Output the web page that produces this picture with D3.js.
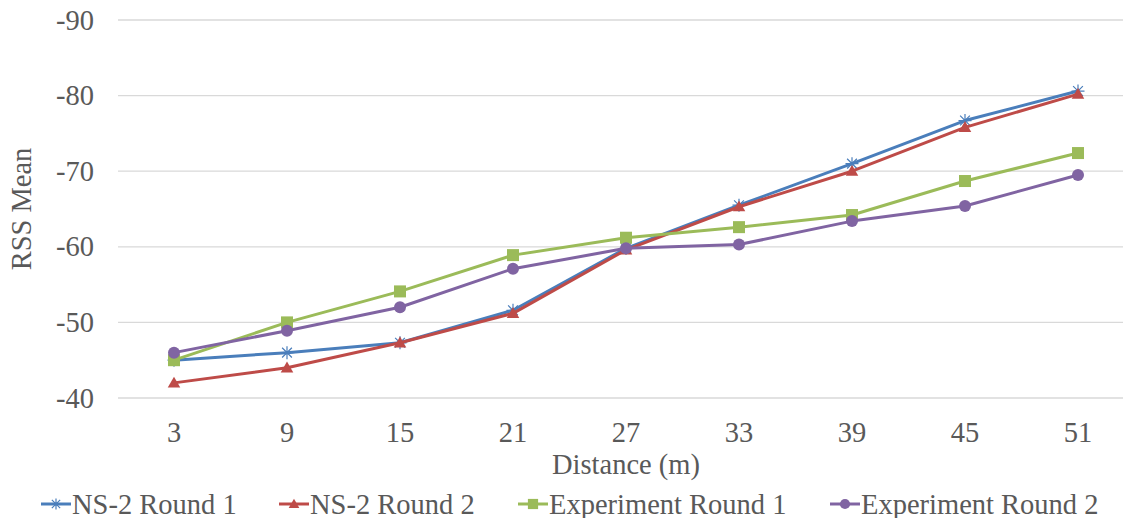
<!DOCTYPE html>
<html>
<head>
<meta charset="utf-8">
<script src="https://cdn.jsdelivr.net/npm/d3@7"></script>
<style>
  body { margin: 0; background: #fff; }
</style>
</head>
<body>
<div class="plot"></div>
<script>

// distances on the x axis
const distances = [3, 9, 15, 21, 27, 33, 39, 45, 51];

// RSS means
const ns2Round1 = [-45.0, -46.0, -47.3, -51.6, -59.8, -65.5, -71.0, -76.7, -80.6];
const ns2Round2 = [-42.0, -44.0, -47.3, -51.2, -59.6, -65.3, -70.0, -75.8, -80.2];
const expRound1 = [-45.0, -50.0, -54.1, -58.9, -61.2, -62.6, -64.2, -68.7, -72.4];
const expRound2 = [-46.0, -48.9, -52.0, -57.1, -59.8, -60.3, -63.4, -65.4, -69.5];

const yTicks = [-40, -50, -60, -70, -80, -90];

const seriesNames = ["NS-2 Round 1", "NS-2 Round 2", "Experiment Round 1", "Experiment Round 2"];

const FONT = "'Liberation Serif', monospace";
const FONT_SIZE = 28.5;
const TEXT_COLOR = "#595959";

function addText(sel){
  return sel.append('text')
    .style('font-family', FONT)
    .style('font-size', FONT_SIZE + 'px')
    .style('fill', TEXT_COLOR);
}

function createPlot(){

  const width = 1128;
  const height = 518;

  const series = [
    {name: seriesNames[0], values: ns2Round1, color: "#4A7EBB", marker: "star"},
    {name: seriesNames[1], values: ns2Round2, color: "#BE4B48", marker: "triangle"},
    {name: seriesNames[2], values: expRound1, color: "#9BBB59", marker: "square"},
    {name: seriesNames[3], values: expRound2, color: "#8064A2", marker: "circle"}
  ];

  const svg = d3.select('.plot')
    .append('svg')
    .attr('width', width)
    .attr('height', height)
    .style('font-family', FONT);

  //Scales
  const xScale = d3.scaleBand()
    .domain(distances)
    .range([117.5, 1134.5]);

  const yScale = d3.scaleLinear()
    .domain([-40, -90])
    .range([398, 20]);

  const gridLeft = 118, gridRight = 1123;

  //Gridlines
  svg.selectAll('.grid')
    .data(yTicks)
    .enter()
    .append('line')
    .attr('x1', gridLeft)
    .attr('x2', gridRight)
    .attr('y1', d => yScale(d))
    .attr('y2', d => yScale(d))
    .attr('stroke', '#d9d9d9')
    .attr('stroke-width', 1.3);

  //Y tick labels
  yTicks.forEach(function(t){
    addText(svg)
      .attr('x', 94)
      .attr('y', yScale(t) + 9.5)
      .attr('text-anchor', 'end')
      .text(t);
  });

  //X tick labels
  distances.forEach(function(d){
    addText(svg)
      .attr('x', xScale(d) + xScale.bandwidth()/2)
      .attr('y', 442)
      .attr('text-anchor', 'middle')
      .text(d);
  });

  //Axis titles
  addText(svg)
    .attr('x', 626)
    .attr('y', 474)
    .attr('text-anchor', 'middle')
    .text('Distance (m)');

  addText(svg)
    .attr('transform', 'rotate(-90)')
    .attr('x', -209)
    .attr('y', 31)
    .attr('text-anchor', 'middle')
    .text('RSS Mean');

  const line = d3.line()
    .x((d, i) => xScale(distances[i]) + xScale.bandwidth()/2)
    .y(d => yScale(d));

  function drawMarker(g, type, color, x, y, s){
    if(type === "star"){
      const r = 6.5 * s;
      const d = `M${x-r},${y}L${x+r},${y}M${x},${y-r}L${x},${y+r}` +
        `M${x-r*0.75},${y-r*0.75}L${x+r*0.75},${y+r*0.75}M${x-r*0.75},${y+r*0.75}L${x+r*0.75},${y-r*0.75}`;
      g.append('path').attr('d', d).attr('stroke', color).attr('stroke-width', 1.2).attr('fill', 'none');
    }
    else if(type === "triangle"){
      g.append('path')
        .attr('d', d3.symbol().type(d3.symbolTriangle).size(68 * s * s)())
        .attr('transform', `translate(${x},${y + 1})`)
        .attr('fill', color);
    }
    else if(type === "square"){
      const a = 12 * s;
      g.append('rect').attr('x', x - a/2).attr('y', y - a/2).attr('width', a).attr('height', a).attr('fill', color);
    }
    else{
      g.append('circle').attr('cx', x).attr('cy', y).attr('r', 6 * s).attr('fill', color);
    }
  }

  //Lines and markers
  series.forEach(function(s){
    const g = svg.append('g');
    g.append('path')
      .attr('d', line(s.values))
      .attr('fill', 'none')
      .attr('stroke', s.color)
      .attr('stroke-width', 3)
      .attr('stroke-linejoin', 'round');
    s.values.forEach(function(v, i){
      drawMarker(g, s.marker, s.color, xScale(distances[i]) + xScale.bandwidth()/2, yScale(v), 1);
    });
  });

  //Legend
  const legendX = [41, 279, 518, 830];
  const legendY = 504;
  series.forEach(function(s, i){
    const g = svg.append('g');
    g.append('line')
      .attr('x1', legendX[i]).attr('x2', legendX[i] + 30)
      .attr('y1', legendY).attr('y2', legendY)
      .attr('stroke', s.color).attr('stroke-width', 3);
    drawMarker(g, s.marker, s.color, legendX[i] + 15, legendY, 0.85);
    addText(g)
      .attr('x', legendX[i] + 31)
      .attr('y', legendY + 9.5)
      .text(s.name);
  });
}

createPlot();
</script>
</body>
</html>
